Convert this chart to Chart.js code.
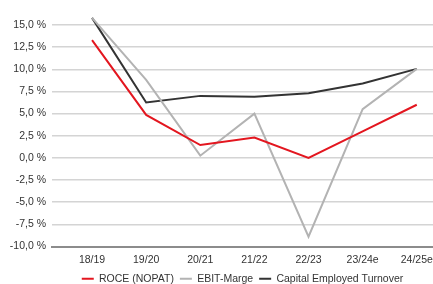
<!DOCTYPE html>
<html>
<head>
<meta charset="utf-8">
<script src="https://cdn.jsdelivr.net/npm/chart.js@4"></script>
<style>
    html, body { margin: 0; padding: 0; background: #fff; }
    #wrap { width: 433px; height: 284px; position: relative; }
</style>
</head>
<body>
<div id="wrap"><canvas id="chart"></canvas></div>
<script>
// values
const categories = ['18/19', '19/20', '20/21', '21/22', '22/23', '23/24e', '24/25e'];
const roce = [13.3, 4.85, 1.45, 2.3, 0.0, 3.0, 6.0];
const ebitMarge = [15.8, 8.8, 0.25, 5.0, -8.9, 5.5, 10.05];
const capitalTurnover = [15.8, 6.25, 7.0, 6.9, 7.3, 8.4, 10.05];
const yTicks = [-10, -7.5, -5, -2.5, 0, 2.5, 5, 7.5, 10, 12.5, 15];

const font = { family: '"Liberation Sans", Arial, sans-serif', size: 10.5 };
const textColor = '#333333';

function points(values) {
    return values.map((v, i) => ({ x: i, y: v }));
}

function makeSet(label, values, color) {
    return {
        label: label,
        data: points(values),
        borderColor: color,
        backgroundColor: color,
        borderWidth: 2,
        pointRadius: 0,
        tension: 0,
        clip: false
    };
}

new Chart(document.getElementById('chart'), {
    type: 'line',
    data: {
        datasets: [
            makeSet('ROCE (NOPAT)', roce, '#e3161f'),
            makeSet('EBIT-Marge', ebitMarge, '#b3b3b3'),
            makeSet('Capital Employed Turnover', capitalTurnover, '#333333')
        ]
    },
    options: {
        responsive: true,
        maintainAspectRatio: false,
        animation: false,
        layout: { padding: { top: 25, right: 0, bottom: -10, left: 0 } },
        plugins: {
            legend: {
                position: 'bottom',
                fullSize: false,
                labels: {
                    usePointStyle: true,
                    pointStyle: 'line',
                    pointStyleWidth: 12,
                    boxHeight: 8,
                    padding: 6,
                    color: textColor,
                    font: font
                }
            },
            tooltip: { enabled: false }
        },
        scales: {
            x: {
                type: 'linear',
                min: -0.74,
                max: 6.3,
                grid: { display: false },
                border: { display: true, color: '#8c8c8c', width: 2 },
                afterFit: (scale) => {
                    scale.height = 21;
                    scale.paddingLeft = 0;
                    scale.paddingRight = 0;
                },
                afterBuildTicks: (scale) => {
                    scale.ticks = categories.map((c, i) => ({ value: i }));
                },
                ticks: {
                    color: textColor,
                    font: font,
                    padding: -1,
                    maxRotation: 0,
                    autoSkip: false,
                    callback: (v) => categories[v]
                }
            },
            y: {
                min: -10,
                max: 15,
                afterFit: (scale) => { scale.width = 52; },
                afterBuildTicks: (scale) => {
                    scale.ticks = yTicks.map(v => ({ value: v }));
                },
                grid: { color: '#d4d4d4', lineWidth: 1.5, drawTicks: false },
                border: { display: false },
                ticks: {
                    color: textColor,
                    font: font,
                    padding: 6,
                    callback: (v) => v.toFixed(1).replace('.', ',') + ' %'
                }
            }
        }
    }
});
</script>
</body>
</html>
